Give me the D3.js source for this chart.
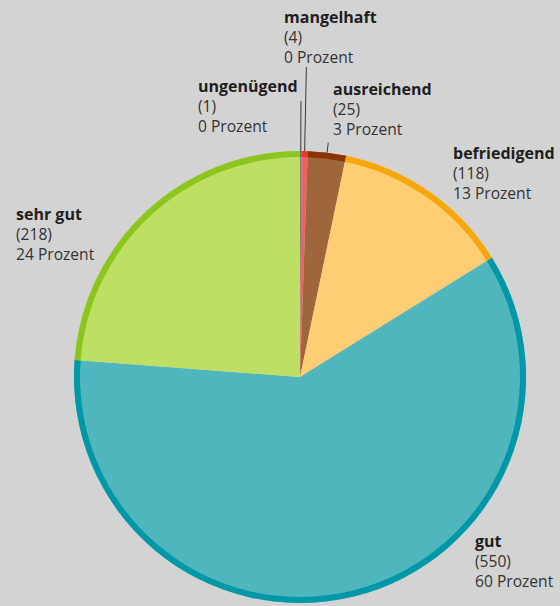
<!DOCTYPE html>
<html>
<head>
<meta charset="utf-8">
<script src="https://cdn.jsdelivr.net/npm/d3@7"></script>
<style>
  body { margin: 0; background: #d3d3d3; }
  svg { display: block; font-family: "Open Sans", "Noto Sans", sans-serif; }
</style>
</head>
<body>
<svg></svg>
<script>
var width = 560;
var height = 606;

// grades, clockwise from 12 o'clock
var grades = ["ungenügend", "mangelhaft", "ausreichend", "befriedigend", "gut", "sehr gut"];
var counts = [1, 4, 25, 118, 550, 218];
var percents = [0, 0, 3, 13, 60, 24];

var fillColors = ["#7d7d7d", "#f26161", "#a0663b", "#ffcd73", "#4fb6bd", "#bde064"];
var rimColors = ["#6f6f6f", "#e63a36", "#8a3500", "#f5a70c", "#0098a7", "#8cc51e"];

// where each label block sits (left x, first baseline)
var labelPos = {
  "ungenügend": [198, 92],
  "mangelhaft": [284, 23],
  "ausreichend": [333, 95],
  "befriedigend": [453, 159],
  "gut": [475, 547],
  "sehr gut": [16, 220]
};
// leader lines only for the thin slices: outer radius of the line
var leaderTo = { "ungenügend": 276, "mangelhaft": 310, "ausreichend": 236 };

var cx = 300, cy = 377, radius = 226, rimWidth = 6;

var svg = d3.select("svg")
    .attr("width", width)
    .attr("height", height);

svg.append("rect")
    .attr("width", width)
    .attr("height", height)
    .attr("fill", "#d3d3d3");

var data = grades.map((g, i) => ({ grade: g, count: counts[i], pct: percents[i], i: i }));

var pie = d3.pie()
    .value(d => d.count)
    .sort(null);

var arcs = pie(data);

var fillArc = d3.arc().innerRadius(0).outerRadius(radius);
var rimArc = d3.arc().innerRadius(radius - rimWidth).outerRadius(radius);

var g = svg.append("g")
    .attr("transform", `translate(${cx},${cy})`);

g.selectAll("path.slice")
    .data(arcs)
    .enter()
    .append("path")
        .attr("class", "slice")
        .attr("d", fillArc)
        .attr("fill", d => fillColors[d.data.i]);

g.selectAll("path.rim")
    .data(arcs)
    .enter()
    .append("path")
        .attr("class", "rim")
        .attr("d", rimArc)
        .attr("fill", d => rimColors[d.data.i]);

// leader lines
g.selectAll("line.leader")
    .data(arcs.filter(d => leaderTo[d.data.grade]))
    .enter()
    .append("line")
        .attr("class", "leader")
        .attr("x1", d => Math.sin((d.startAngle + d.endAngle) / 2) * radius)
        .attr("y1", d => -Math.cos((d.startAngle + d.endAngle) / 2) * radius)
        .attr("x2", d => Math.sin((d.startAngle + d.endAngle) / 2) * leaderTo[d.data.grade])
        .attr("y2", d => -Math.cos((d.startAngle + d.endAngle) / 2) * leaderTo[d.data.grade])
        .attr("stroke", "#3a3a3a")
        .attr("stroke-width", 1);

// labels
var labels = svg.selectAll("text.label")
    .data(data)
    .enter()
    .append("text")
        .attr("class", "label")
        .attr("x", d => labelPos[d.grade][0])
        .attr("y", d => labelPos[d.grade][1])
        .attr("fill", "#1e1e1e");

labels.append("tspan")
    .attr("font-weight", "bold")
    .attr("font-size", "16px")
    .text(d => d.grade);

labels.append("tspan")
    .attr("x", d => labelPos[d.grade][0])
    .attr("dy", 20)
    .attr("font-size", "15.6px")
    .attr("fill", "#333")
    .text(d => `(${d.count})`);

labels.append("tspan")
    .attr("x", d => labelPos[d.grade][0])
    .attr("dy", 20)
    .attr("font-size", "15.6px")
    .attr("fill", "#333")
    .text(d => `${d.pct} Prozent`);
</script>
</body>
</html>
